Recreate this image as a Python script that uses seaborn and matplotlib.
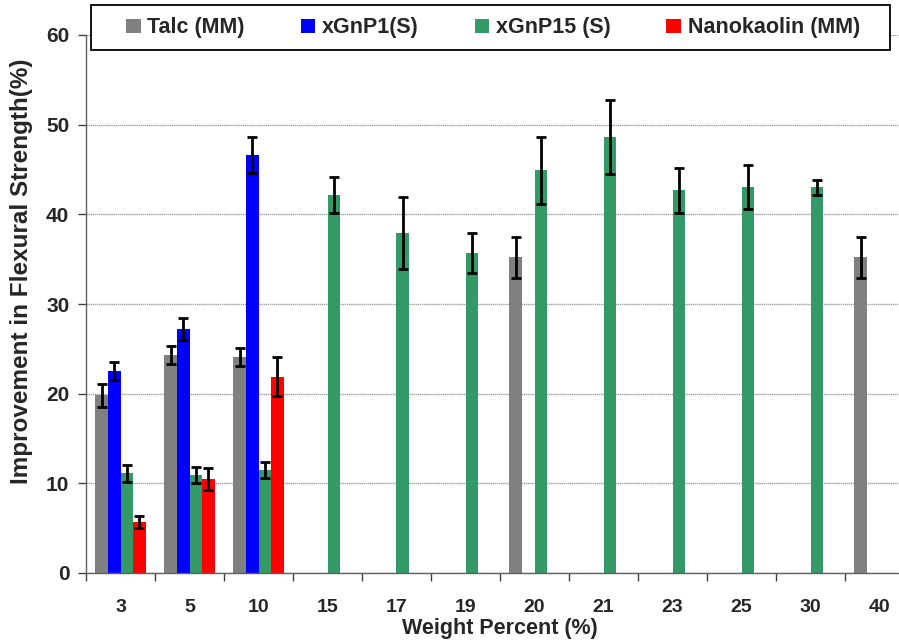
import matplotlib
matplotlib.use("Agg")
import matplotlib.pyplot as plt
import seaborn as sns
import pandas as pd
from matplotlib.ticker import FixedLocator
from matplotlib.patches import Rectangle

# Weight percent categories
categories = ["3", "5", "10", "15", "17", "19", "20", "21", "23", "25", "30", "40"]
series = ["Talc (MM)", "xGnP1(S)", "xGnP15 (S)", "Nanokaolin (MM)"]
colors = ["#808080", "#0000FF", "#339966", "#FF0000"]

# Mean improvement (%) and error per filler; None = not measured
talc_vals = [19.8, 24.3, 24.1, None, None, None, 35.2, None, None, None, None, 35.2]
talc_err = [1.3, 1.0, 1.0, None, None, None, 2.25, None, None, None, None, 2.25]
gnp1_vals = [22.5, 27.2, 46.6, None, None, None, None, None, None, None, None, None]
gnp1_err = [1.0, 1.2, 2.0, None, None, None, None, None, None, None, None, None]
gnp15_vals = [11.1, 10.9, 11.5, 42.2, 37.9, 35.7, 44.9, 48.6, 42.7, 43.0, 43.0, None]
gnp15_err = [0.9, 0.9, 0.9, 2.0, 4.0, 2.2, 3.75, 4.1, 2.5, 2.45, 0.85, None]
kaolin_vals = [5.7, 10.5, 21.9, None, None, None, None, None, None, None, None, None]
kaolin_err = [0.65, 1.2, 2.2, None, None, None, None, None, None, None, None, None]

all_vals = [talc_vals, gnp1_vals, gnp15_vals, kaolin_vals]
all_errs = [talc_err, gnp1_err, gnp15_err, kaolin_err]

rows = []
err_lookup = {}
for name, vals, errs in zip(series, all_vals, all_errs):
    for cat, v, e in zip(categories, vals, errs):
        if v is not None:
            rows.append({"Weight": cat, "Filler": name, "Value": v})
            err_lookup[(cat, name)] = e
df = pd.DataFrame(rows)

sns.set_theme(style="white")
plt.rcParams["font.family"] = ["Liberation Sans", "DejaVu Sans"]
plt.rcParams["font.weight"] = "bold"

W, H = 899, 644
fig = plt.figure(figsize=(W / 100, H / 100), dpi=100)
ax = fig.add_axes([86 / W, 71 / H, 828 / W, 538 / H])

sns.barplot(data=df, x="Weight", y="Value", hue="Filler",
            order=categories, hue_order=series, palette=colors,
            width=0.73, dodge=True, errorbar=None, saturation=1,
            linewidth=0, ax=ax, legend=True)

# Error bars on top of each drawn bar
for cont, name in zip(ax.containers, series):
    for bar in cont:
        xc = bar.get_x() + bar.get_width() / 2
        h = bar.get_height()
        cat = categories[int(round(xc))]
        e = err_lookup.get((cat, name))
        if e is None:
            continue
        ax.errorbar(xc, h, yerr=e, fmt="none", ecolor="black",
                    elinewidth=2, capsize=3.3, capthick=2, zorder=5)

ax.set_xlim(-0.5, len(categories) - 0.5)
ax.set_ylim(0, 60)
ax.set_yticks(range(0, 61, 10))
ax.yaxis.grid(True, color="#a0a0a0", linewidth=1, linestyle=(0, (1, 0.5)))
ax.set_axisbelow(True)

ax.set_xticks(range(len(categories)))
ax.set_xticklabels(categories, fontsize=14, fontweight="bold")
ax.xaxis.set_minor_locator(FixedLocator([i - 0.5 for i in range(len(categories) + 1)]))
ax.tick_params(axis="x", which="major", length=0, pad=19)
ax.tick_params(axis="x", which="minor", length=6, width=1, color="#404040",
               direction="out", bottom=True)
ax.tick_params(axis="y", length=6, width=1, color="#404040", direction="out",
               left=True, labelsize=15, pad=6)
for lbl in ax.get_yticklabels():
    lbl.set_fontweight("bold")

for s in ["top", "right"]:
    ax.spines[s].set_visible(False)
for s in ["left", "bottom"]:
    ax.spines[s].set_color("#606060")
    ax.spines[s].set_linewidth(1)

ax.set_xlabel("Weight Percent (%)", fontsize=15.5, fontweight="bold", labelpad=1)
ax.set_ylabel("Improvement in Flexural Strength(%)", fontsize=17.5,
              fontweight="bold")
ax.yaxis.set_label_coords(-0.064, 0.56)

handles, labels = ax.get_legend_handles_labels()
ax.get_legend().remove()

# Legend box across the top
fig.patches.append(Rectangle((91 / W, 1 - 50 / H), 799 / W, 45 / H,
                             transform=fig.transFigure, facecolor="white",
                             edgecolor="black", linewidth=1.3, zorder=3))
leg = fig.legend(handles, labels, loc="center",
                 bbox_to_anchor=(493 / W, 1 - 28 / H),
                 ncol=4, frameon=False, handlelength=0.68,
                 handleheight=0.68, handletextpad=0.3, columnspacing=2.6,
                 prop={"size": 15.5, "weight": "bold"})
leg.set_zorder(4)

fig.savefig("out.png", dpi=100)
